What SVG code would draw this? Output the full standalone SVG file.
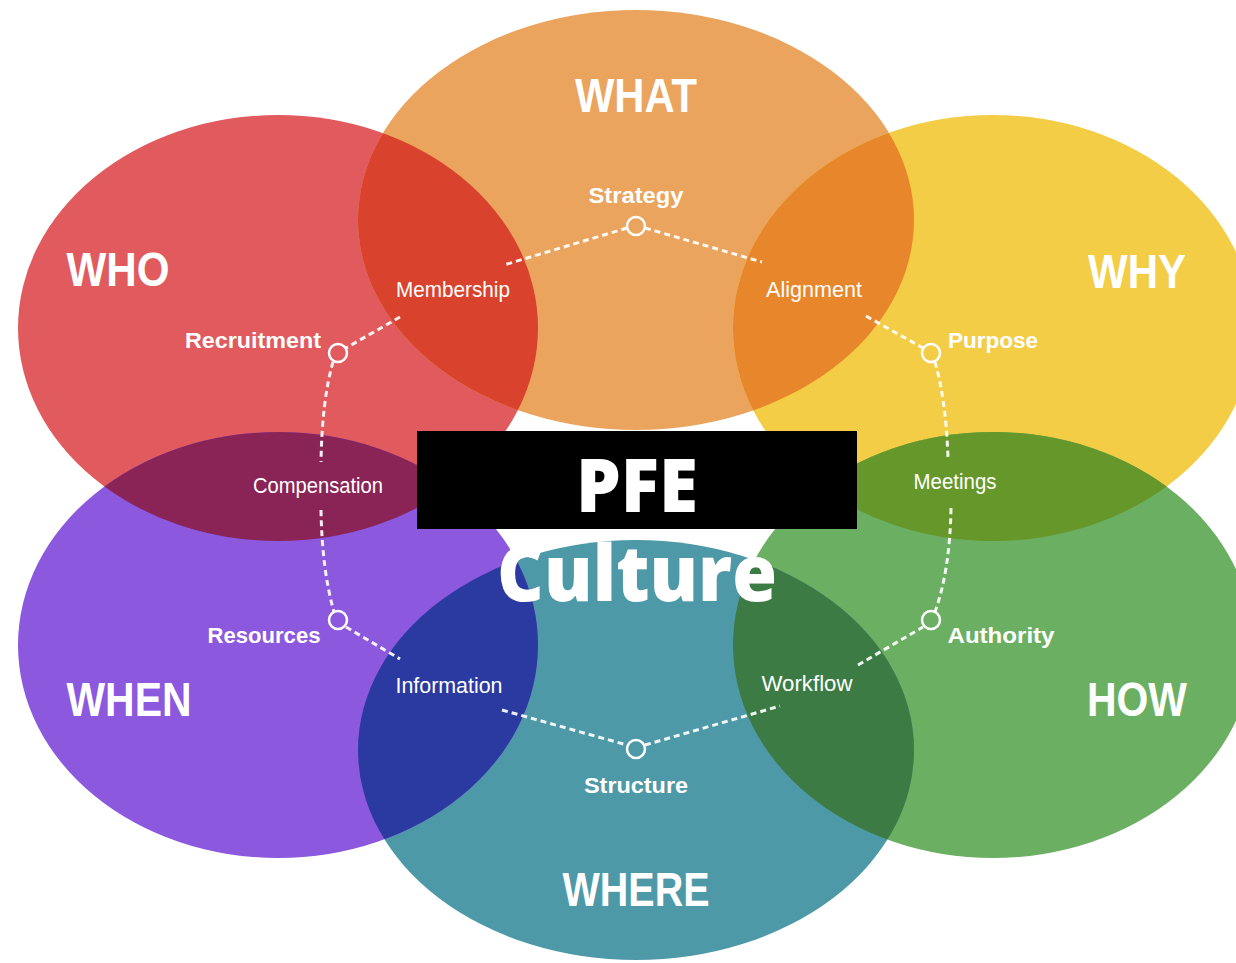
<svg xmlns="http://www.w3.org/2000/svg" width="1236" height="963" viewBox="0 0 1236 963">
<style>
.big{font-family:"Liberation Sans",Arial,sans-serif;font-weight:bold;font-size:48px;fill:#fff;text-anchor:middle}
.lbl{font-family:"Liberation Sans",Arial,sans-serif;font-size:22px;fill:#fff;text-anchor:middle}
.b{font-weight:bold}
.dash{fill:none;stroke:#fff;stroke-width:3;stroke-dasharray:6 4;opacity:0.92}
.node{fill:none;stroke:#fff;stroke-width:2.5}
.title{font-family:"Open Sans","Liberation Sans",sans-serif;font-weight:800;fill:#fff;text-anchor:middle}
</style>
<defs>
<clipPath id="cWHO"><ellipse cx="278" cy="328" rx="260" ry="213"/></clipPath>
<clipPath id="cWHAT"><ellipse cx="636" cy="220" rx="278" ry="210"/></clipPath>
<clipPath id="cWHY"><ellipse cx="993" cy="328" rx="260" ry="213"/></clipPath>
<clipPath id="cHOW"><ellipse cx="993" cy="645" rx="260" ry="213"/></clipPath>
<clipPath id="cWHERE"><ellipse cx="636" cy="750" rx="278" ry="210"/></clipPath>
<clipPath id="cWHEN"><ellipse cx="278" cy="645" rx="260" ry="213"/></clipPath>
</defs>
<rect width="1236" height="963" fill="#fff"/>
<g id="WHO"><ellipse cx="278" cy="328" rx="260" ry="213" fill="#e05a5e"/></g>
<g id="WHAT"><ellipse cx="636" cy="220" rx="278" ry="210" fill="#eaa45d"/></g>
<g id="WHY"><ellipse cx="993" cy="328" rx="260" ry="213" fill="#f3cd46"/></g>
<g id="HOW"><ellipse cx="993" cy="645" rx="260" ry="213" fill="#6bb062"/></g>
<g id="WHERE"><ellipse cx="636" cy="750" rx="278" ry="210" fill="#4e99a8"/></g>
<g id="WHEN"><ellipse cx="278" cy="645" rx="260" ry="213" fill="#8b58de"/></g>
<g id="overlaps">
<ellipse cx="636" cy="220" rx="278" ry="210" fill="#d9432d" clip-path="url(#cWHO)"/>
<ellipse cx="636" cy="220" rx="278" ry="210" fill="#e8862c" clip-path="url(#cWHY)"/>
<ellipse cx="993" cy="645" rx="260" ry="213" fill="#66972a" clip-path="url(#cWHY)"/>
<ellipse cx="636" cy="750" rx="278" ry="210" fill="#3c7b44" clip-path="url(#cHOW)"/>
<ellipse cx="636" cy="750" rx="278" ry="210" fill="#2b3aa0" clip-path="url(#cWHEN)"/>
<ellipse cx="278" cy="645" rx="260" ry="213" fill="#8b2456" clip-path="url(#cWHO)"/>
</g>
<g id="connectors">
<path class="dash" d="M627,228 L504,265"/>
<path class="dash" d="M400,317 L346,348"/>
<path class="dash" d="M645,228 L762,262"/>
<path class="dash" d="M866,316 L923,348"/>
<path class="dash" d="M935,362 Q946,400 948,458"/>
<path class="dash" d="M951,508 Q950,570 935,612"/>
<path class="dash" d="M333,362 Q322,400 321,462"/>
<path class="dash" d="M321,510 Q322,570 334,612"/>
<path class="dash" d="M346,627 L400,659"/>
<path class="dash" d="M502,710 L627,745"/>
<path class="dash" d="M645,745 L780,706"/>
<path class="dash" d="M858,665 L923,627"/>
</g>
<g id="nodes">
<g id="n-strategy"><circle class="node" cx="636" cy="226" r="9"/><text class="lbl b" x="636" y="203" textLength="95" lengthAdjust="spacingAndGlyphs">Strategy</text></g>
<g id="n-membership"><text class="lbl" x="453" y="297" textLength="114" lengthAdjust="spacingAndGlyphs">Membership</text></g>
<g id="n-alignment"><text class="lbl" x="814" y="297" textLength="96" lengthAdjust="spacingAndGlyphs">Alignment</text></g>
<g id="n-recruitment"><circle class="node" cx="338" cy="353" r="9"/><text class="lbl b" x="253" y="348" textLength="136" lengthAdjust="spacingAndGlyphs">Recruitment</text></g>
<g id="n-purpose"><circle class="node" cx="931" cy="353" r="9"/><text class="lbl b" x="993" y="348" textLength="90" lengthAdjust="spacingAndGlyphs">Purpose</text></g>
<g id="n-compensation"><text class="lbl" x="318" y="493" textLength="130" lengthAdjust="spacingAndGlyphs">Compensation</text></g>
<g id="n-meetings"><text class="lbl" x="955" y="489" textLength="83" lengthAdjust="spacingAndGlyphs">Meetings</text></g>
<g id="n-resources"><circle class="node" cx="338" cy="620" r="9"/><text class="lbl b" x="264" y="643" textLength="113" lengthAdjust="spacingAndGlyphs">Resources</text></g>
<g id="n-authority"><circle class="node" cx="931" cy="620" r="9"/><text class="lbl b" x="1001" y="643" textLength="107" lengthAdjust="spacingAndGlyphs">Authority</text></g>
<g id="n-information"><text class="lbl" x="449" y="693" textLength="107" lengthAdjust="spacingAndGlyphs">Information</text></g>
<g id="n-workflow"><text class="lbl" x="807" y="691" textLength="91" lengthAdjust="spacingAndGlyphs">Workflow</text></g>
<g id="n-structure"><circle class="node" cx="636" cy="749" r="9"/><text class="lbl b" x="636" y="793" textLength="104" lengthAdjust="spacingAndGlyphs">Structure</text></g>
</g>
<g id="headings">
<text class="big" x="636" y="112" textLength="122" lengthAdjust="spacingAndGlyphs">WHAT</text>
<text class="big" x="118" y="286" textLength="103" lengthAdjust="spacingAndGlyphs">WHO</text>
<text class="big" x="1137" y="288" textLength="98" lengthAdjust="spacingAndGlyphs">WHY</text>
<text class="big" x="129" y="716" textLength="125" lengthAdjust="spacingAndGlyphs">WHEN</text>
<text class="big" x="1137" y="716" textLength="100" lengthAdjust="spacingAndGlyphs">HOW</text>
<text class="big" x="636" y="906" textLength="147" lengthAdjust="spacingAndGlyphs">WHERE</text>
</g>
<g id="center">
<rect x="417" y="431" width="440" height="98" fill="#000"/>
<text class="title" x="637" y="512" font-size="75" textLength="122" lengthAdjust="spacingAndGlyphs">PFE</text>
<text class="title" x="637" y="601" font-size="78" textLength="280" lengthAdjust="spacingAndGlyphs">Culture</text>
</g>
</svg>
